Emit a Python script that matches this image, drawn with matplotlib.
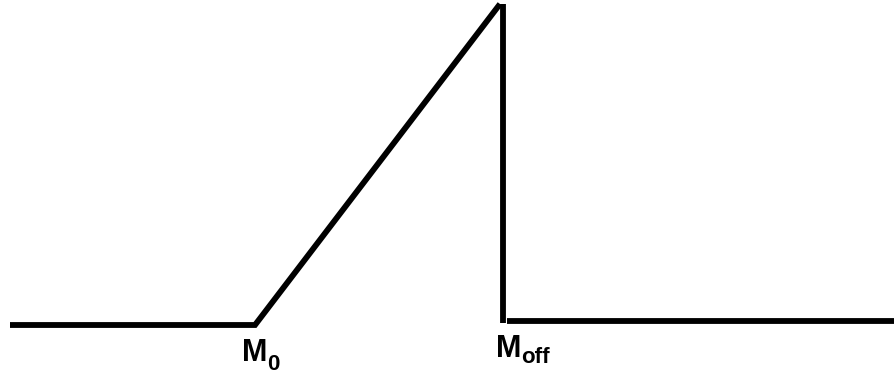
import matplotlib
matplotlib.use("Agg")
import matplotlib.pyplot as plt

# Schematic: flat, linear rise from M0, sudden drop at Moff, flat again
rise_x = [10, 255, 500]
rise_y = [50, 50, 371]
drop_x = [503, 503]
drop_y = [371, 52]
tail_x = [507, 895]
tail_y = [54, 54]
label_main = ["M", "M"]
label_sub = ["0", "off"]
main_pos = [(242, 14), (496, 18)]
sub_pos = [(267, 5), (521, 12)]

fig = plt.figure(figsize=(8.95, 3.75), dpi=100)
ax = fig.add_axes([0, 0, 1, 1])
ax.set_xlim(0, 895)
ax.set_ylim(0, 375)
ax.axis("off")

for xs, ys in [(rise_x, rise_y), (drop_x, drop_y), (tail_x, tail_y)]:
    ax.plot(xs, ys, color="black", lw=4.2, solid_capstyle="butt", solid_joinstyle="miter")

fam = ["Liberation Sans", "DejaVu Sans"]
for m, s, (mx, my), (sx, sy) in zip(label_main, label_sub, main_pos, sub_pos):
    ax.text(mx, my, m, fontsize=22, fontweight="bold", family=fam,
            ha="left", va="baseline")
    ax.text(sx, sy, s, fontsize=16, fontweight="bold", family=fam,
            ha="left", va="baseline")

fig.savefig("out.png", dpi=100)
